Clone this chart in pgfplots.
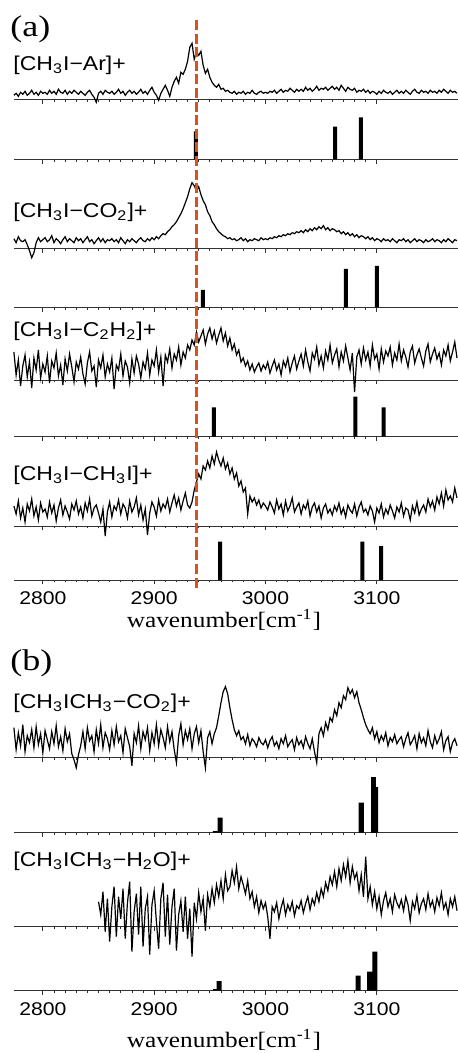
\documentclass[border=0pt]{standalone}
\usepackage{fontspec}
\setmainfont{Liberation Serif}
\setsansfont{Liberation Sans}
\usepackage{pgfplots}
\usepackage{pgfplotstable}
\pgfplotsset{compat=1.18}
\definecolor{refred}{RGB}{214,82,32}

% panel (a) spectra, intensities in arbitrary units above each baseline
\pgfplotstableread{
x a1 a2 a3 a4
2774 4 10 28 20
2776 6 6 5 12
2778 3 12 20 25
2780 7 8 -6 8
2782 5 7 14 18
2784 8 9 25 4
2786 4 4 3 22
2788 6 -2 18 15
2790 9 -9 -8 27
2792 5 -4 22 10
2794 7 6 10 19
2796 4 11 30 6
2798 8 7 2 23
2800 6 9 16 14
2802 7 11 8 17
2804 5 7 24 9
2806 9 9 -3 24
2808 6 13 19 13
2810 8 6 12 21
2812 5 10 27 5
2814 10 8 4 18
2816 7 5 15 26
2818 6 9 -5 11
2820 9 12 21 20
2822 5 7 9 14
2824 8 10 26 7
2826 6 8 13 22
2828 9 6 -2 16
2830 7 11 18 25
2832 5 8 11 12
2834 8 10 23 19
2836 6 6 6 8
2838 4 9 -4 23
2840 7 12 17 15
2842 9 7 28 27
2844 5 9 9 10
2846 2 5 14 18
2848 -3 8 -7 21
2850 6 11 20 13
2852 8 7 12 4
2854 5 10 25 17
2856 9 6 3 -10
2858 7 9 16 14
2860 6 8 8 24
2862 8 10 22 9
2864 5 7 -9 20
2866 7 9 15 16
2868 10 6 10 26
2870 6 11 26 12
2872 8 8 4 22
2874 4 5 19 18
2876 7 9 13 8
2878 9 7 -3 25
2880 6 10 21 14
2882 8 8 7 19
2884 5 6 24 28
2886 7 9 16 11
2888 10 11 2 21
2890 6 8 18 6
2892 8 7 11 17
2894 5 10 27 -9
2896 9 8 5 13
2898 12 11 20 24
2900 7 9 14 19
2902 4 12 30 10
2904 -1 10 8 26
2906 6 13 23 15
2908 10 15 -6 22
2910 14 14 25 18
2912 9 17 18 27
2914 3 19 31 14
2916 12 22 12 23
2918 18 24 26 31
2920 22 27 20 20
2922 16 31 33 28
2924 27 35 15 16
2926 25 40 28 25
2928 30 46 22 33
2930 38 52 35 21
2932 52 60 30 18
2934 56 66 40 24
2936 40 63 35 36
2938 47 58 48 44
2940 44 62 38 52
2942 48 54 44 47
2944 34 48 50 60
2946 26 44 36 56
2948 30 37 46 65
2950 22 33 52 58
2952 17 27 41 70
2954 14 24 49 62
2956 12 20 37 74
2958 15 17 45 66
2960 10 15 52 60
2962 11 13 39 68
2964 8 12 47 57
2966 9 10 34 63
2968 7 11 42 52
2970 6 9 30 58
2972 8 10 36 47
2974 5 8 25 53
2976 7 9 30 40
2978 6 11 18 45
2980 8 8 22 34
2982 5 10 14 38
2984 7 7 19 12
2986 6 9 10 30
2988 9 8 16 24
2990 6 10 8 28
2992 5 9 13 21
2994 7 8 17 26
2996 8 11 9 18
2998 6 9 15 23
3000 7 10 11 20
3002 6 9 18 16
3004 8 11 7 24
3006 7 10 14 19
3008 9 12 20 13
3010 6 11 10 26
3012 8 13 16 17
3014 10 12 5 22
3016 7 14 19 11
3018 9 13 13 25
3020 8 15 22 15
3022 11 14 8 20
3024 9 16 17 28
3026 7 15 24 14
3028 10 17 11 19
3030 8 16 19 23
3032 10 18 26 12
3034 8 16 14 21
3036 12 19 30 17
3038 9 17 18 25
3040 11 20 9 10
3042 8 18 27 19
3044 10 21 21 23
3046 13 19 33 14
3048 9 22 15 20
3050 11 20 24 8
3052 10 23 12 18
3054 12 19 29 22
3056 9 21 20 13
3058 11 18 35 17
3060 13 20 17 11
3062 10 19 25 20
3064 12 17 31 15
3066 9 18 13 23
3068 14 15 28 12
3070 11 17 19 18
3072 8 14 34 9
3074 12 16 22 21
3076 10 13 10 16
3078 9 15 27 13
3080 11 12 -12 22
3082 7 14 23 10
3084 9 11 30 19
3086 8 13 16 24
3088 10 12 32 14
3090 7 10 20 17
3092 9 12 28 11
3094 6 9 14 20
3096 8 11 35 15
3098 7 8 21 4
3100 5 10 26 18
3102 8 9 11 13
3104 6 7 31 22
3106 9 10 18 9
3108 7 8 29 17
3110 6 9 24 12
3112 8 7 33 21
3114 5 10 15 15
3116 7 8 27 8
3118 9 6 20 19
3120 6 9 36 14
3122 8 8 19 23
3124 6 10 30 10
3126 9 7 23 18
3128 7 9 13 16
3130 5 6 28 6
3132 8 8 34 20
3134 10 10 17 13
3136 7 7 25 24
3138 6 9 31 11
3140 9 8 22 17
3142 7 6 14 21
3144 8 9 29 14
3146 6 7 36 27
3148 9 8 18 19
3150 7 10 26 25
3152 8 7 32 16
3154 6 9 21 29
3156 9 8 27 22
3158 7 6 15 33
3160 10 9 30 20
3162 8 7 24 36
3164 6 10 35 26
3166 9 8 19 30
3168 7 6 28 24
3170 8 9 38 38
3172 6 8 22 28
}\specA

% panel (b) spectra (H2O complex only measured above 2850)
\pgfplotstableread{
x b1 b2
2774 30 nan
2776 8 nan
2778 25 nan
2780 12 nan
2782 33 nan
2784 6 nan
2786 22 nan
2788 15 nan
2790 28 nan
2792 10 nan
2794 31 nan
2796 13 nan
2798 24 nan
2800 5 nan
2802 27 nan
2804 18 nan
2806 9 nan
2808 26 nan
2810 14 nan
2812 32 nan
2814 11 nan
2816 21 nan
2818 7 nan
2820 29 nan
2822 16 nan
2824 24 nan
2826 4 nan
2828 -2 nan
2830 -10 nan
2832 3 nan
2834 12 nan
2836 26 nan
2838 9 nan
2840 30 nan
2842 17 nan
2844 22 nan
2846 6 nan
2848 28 nan
2850 14 25
2852 33 12
2854 10 35
2856 25 -5
2858 19 28
2860 8 -15
2862 27 20
2864 13 40
2866 31 -10
2868 16 30
2870 22 8
2872 5 38
2874 29 -12
2876 20 24
2878 11 45
2880 -8 -25
2882 24 15
2884 15 33
2886 32 -8
2888 9 40
2890 26 -20
2892 18 18
2894 30 30
2896 7 -28
2898 25 22
2900 14 36
2902 33 5
2904 12 -22
2906 28 28
2908 20 44
2910 10 -10
2912 31 32
2914 16 -18
2916 26 20
2918 8 38
2920 -5 -24
2922 22 12
2924 34 26
2926 13 -5
2928 27 30
2930 18 -12
2932 29 18
2934 9 -30
2936 24 24
2938 31 8
2940 15 34
2942 27 15
2944 6 28
2946 -10 -4
2948 20 32
2950 26 20
2952 14 38
2954 24 24
2956 30 42
2958 42 30
2960 55 46
2962 66 28
2964 71 52
2966 64 36
2968 50 40
2970 38 56
2972 28 44
2974 22 60
2976 27 38
2978 18 50
2980 21 42
2982 14 33
2984 23 46
2986 12 28
2988 19 35
2990 16 20
2992 11 30
2994 20 14
2996 15 26
2998 13 18
3000 18 24
3002 10 10
3004 17 -12
3006 21 20
3008 12 15
3010 16 24
3012 9 8
3014 19 19
3016 14 27
3018 22 12
3020 11 22
3022 15 16
3024 18 25
3026 8 11
3028 20 21
3030 13 18
3032 17 26
3034 10 14
3036 21 23
3038 14 30
3040 9 17
3042 19 28
3044 6 22
3046 -5 34
3048 24 25
3050 30 38
3052 22 30
3054 35 44
3056 28 36
3058 40 50
3060 36 42
3062 48 55
3064 42 40
3066 55 58
3068 50 46
3070 62 62
3072 58 50
3074 70 66
3076 64 44
3078 68 60
3080 60 48
3082 66 54
3084 55 36
3086 48 52
3088 40 30
3090 33 70
3092 28 28
3094 24 40
3096 30 22
3098 19 35
3100 26 18
3102 15 30
3104 22 12
3106 17 26
3108 25 34
3110 12 20
3112 20 28
3114 16 15
3116 23 32
3118 14 24
3120 18 19
3122 21 27
3124 11 16
3126 19 30
3128 25 22
3130 13 6
3132 17 25
3134 22 18
3136 9 31
3138 24 14
3140 15 23
3142 20 28
3144 12 17
3146 27 33
3148 16 20
3150 10 26
3152 22 15
3154 14 29
3156 19 21
3158 26 34
3160 8 18
3162 17 24
3164 21 12
3166 6 28
3168 15 20
3170 19 30
3172 12 16
}\specB

\newcommand\sx[1]{\scalebox{1.15}[1]{#1}}

\pgfplotsset{
  trace/.style={
    scale only axis, width=222.1pt, height=40pt,
    xmin=2774, xmax=3173, ymin=0, ymax=80,
    axis x line=bottom, axis y line=none,
    axis line style={-, black!80, line width=0.4pt},
    xtick={2800,2900,3000,3100}, minor x tick num=9,
    tick align=outside, major tick length=2.2pt, minor tick length=1.2pt,
    tick style={black!80, line width=0.35pt},
    xticklabels={}, clip=false, anchor=south west},
  labelled/.style={
    xticklabels={\sx{2800},\sx{2900},\sx{3000},\sx{3100}},
    xticklabel style={font=\sffamily\fontsize{9.2}{10}\selectfont, inner sep=0pt, anchor=north, yshift=-3.5pt}},
  spec/.style={black, line width=0.6pt},
  stick/.style={ybar, bar shift=0pt, bar width=3.6, fill=black, draw=none},
}

\tikzset{lab/.style={anchor=base west, inner sep=0pt, font=\sffamily\fontsize{10}{11}\selectfont}}

\begin{document}
\begin{tikzpicture}
\useasboundingbox (0,0) rectangle (229pt,-526.5pt);

% ---------- panel (a) ----------
\begin{axis}[trace, at={(6.95pt,-49.65pt)}]
\addplot[spec] table[x=x, y=a1] {\specA};
\end{axis}
\begin{axis}[trace, at={(6.95pt,-79.65pt)}]
\addplot[stick] coordinates {(2937.4,28) (3062.6,32.6) (3085.6,42)};
\end{axis}
\begin{axis}[trace, at={(6.95pt,-124.35pt)}]
\addplot[spec] table[x=x, y=a2] {\specA};
\end{axis}
\begin{axis}[trace, at={(6.95pt,-153.65pt)}]
\addplot[stick] coordinates {(2943.7,17.3) (3072.2,38.3) (3100,41.3)};
\end{axis}
\begin{axis}[trace, at={(6.95pt,-190pt)}]
\addplot[spec] table[x=x, y=a3] {\specA};
\end{axis}
\begin{axis}[trace, at={(6.95pt,-218.35pt)}]
\addplot[stick] coordinates {(2953.6,29.4) (3080.8,40) (3106,29.4)};
\end{axis}
\begin{axis}[trace, at={(6.95pt,-263pt)}]
\addplot[spec] table[x=x, y=a4] {\specA};
\end{axis}
\begin{axis}[trace, labelled, at={(6.95pt,-290pt)}]
\addplot[stick] coordinates {(2959.3,38.3) (3087,38.3) (3103.9,34)};
% reference line through the CH stretch band
\addplot[refred, line width=1.5pt, dash pattern=on 5pt off 1.8pt] coordinates {(2938,560) (2938,-10)};
\end{axis}

\node[anchor=base west, inner sep=0pt, font=\fontsize{15}{16}\selectfont] at (5pt,-18.5pt) {\scalebox{1.2}[1]{(a)}};
\node[lab] at (6.5pt,-35.5pt) {\sx{[CH\textsubscript{3}I−Ar]+}};
\node[lab] at (6.5pt,-109pt) {\sx{[CH\textsubscript{3}I−CO\textsubscript{2}]+}};
\node[lab] at (6.5pt,-168.3pt) {\sx{[CH\textsubscript{3}I−C\textsubscript{2}H\textsubscript{2}]+}};
\node[lab] at (6.5pt,-240pt) {\sx{[CH\textsubscript{3}I−CH\textsubscript{3}I]+}};
\node[anchor=base, inner sep=0pt, font=\fontsize{11}{12}\selectfont] at (112pt,-313.5pt) {\sx{wavenumber[cm\textsuperscript{-1}]}};

% ---------- panel (b) ----------
\begin{axis}[trace, at={(6.95pt,-378.85pt)}]
\addplot[spec] table[x=x, y=b1] {\specB};
\end{axis}
\begin{axis}[trace, at={(6.95pt,-416.35pt)}]
\addplot[stick, bar width=4.5] coordinates {(2955,1.5) (2959.3,15) (3086,30) (3099,45.7)};
\addplot[stick, bar width=4.5] coordinates {(3097,55.7)};
\end{axis}
\begin{axis}[trace, at={(6.95pt,-463.35pt)}]
\addplot[spec] table[x=x, y=b2] {\specB};
\end{axis}
\begin{axis}[trace, labelled, at={(6.95pt,-495.35pt)}]
\addplot[stick, bar width=4.5] coordinates {(2955,1.5) (2958.4,9.7) (3083.3,15) (3093.6,19) (3098.2,39)};
\end{axis}

\node[anchor=base west, inner sep=0pt, font=\fontsize{15}{16}\selectfont] at (5pt,-335pt) {\scalebox{1.2}[1]{(b)}};
\node[lab] at (6.5pt,-354pt) {\sx{[CH\textsubscript{3}ICH\textsubscript{3}−CO\textsubscript{2}]+}};
\node[lab] at (6.5pt,-433.3pt) {\sx{[CH\textsubscript{3}ICH\textsubscript{3}−H\textsubscript{2}O]+}};
\node[anchor=base, inner sep=0pt, font=\fontsize{11}{12}\selectfont] at (112pt,-523.5pt) {\sx{wavenumber[cm\textsuperscript{-1}]}};
\end{tikzpicture}
\end{document}
